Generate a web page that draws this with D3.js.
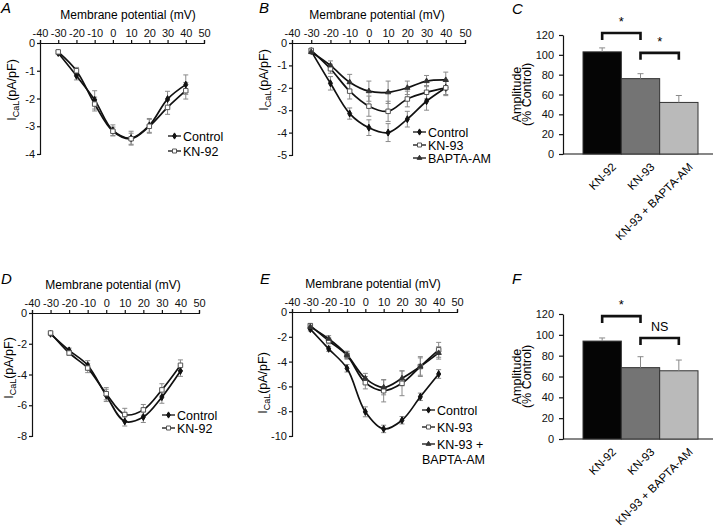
<!DOCTYPE html>
<html>
<head>
<meta charset="utf-8">
<script src="https://cdn.jsdelivr.net/npm/d3@7"></script>
<style>
  body { margin: 0; background: #fff; }
  svg { font-family: "Liberation Sans", Arial, sans-serif; }
  .axis path, .axis line { stroke: #111; stroke-width: 1.2; }
  .axis text { font-size: 11px; fill: #111; }
</style>
</head>
<body>
<svg width="720" height="529"></svg>
<script>
// voltages and ticks shared by the I-V panels
const voltages = [-30, -20, -10, 0, 10, 20, 30, 40];
const xTicks = [-40, -30, -20, -10, 0, 10, 20, 30, 40, 50];

// panel A
const aControl = [-0.36, -1.18, -2.05, -3.15, -3.43, -2.97, -2.02, -1.5];
const aControlErr = [0.06, 0.15, 0.33, 0.2, 0.25, 0.25, 0.28, 0.35];
const aKN92 = [-0.32, -1.0, -2.2, -3.18, -3.45, -3.0, -2.32, -1.72];
const aKN92Err = [0.05, 0.12, 0.25, 0.15, 0.2, 0.25, 0.25, 0.3];

// panel B
const bControl = [-0.36, -1.8, -3.15, -3.78, -4.0, -3.4, -2.6, -2.0];
const bControlErr = [0.08, 0.3, 0.25, 0.35, 0.4, 0.35, 0.4, 0.35];
const bKN93 = [-0.33, -1.15, -2.15, -2.82, -3.05, -2.5, -2.2, -2.0];
const bKN93Err = [0.08, 0.2, 0.35, 0.45, 0.45, 0.35, 0.3, 0.3];
const bBapta = [-0.4, -1.0, -1.75, -2.15, -2.2, -2.0, -1.7, -1.65];
const bBaptaErr = [0.08, 0.2, 0.35, 0.45, 0.5, 0.3, 0.25, 0.35];

// panel D
const dControl = [-1.35, -2.43, -3.4, -5.36, -7.05, -6.77, -5.47, -3.77];
const dControlErr = [0.1, 0.15, 0.3, 0.4, 0.3, 0.35, 0.4, 0.35];
const dKN92 = [-1.3, -2.6, -3.58, -5.25, -6.6, -6.3, -5.0, -3.4];
const dKN92Err = [0.1, 0.15, 0.3, 0.4, 0.4, 0.35, 0.4, 0.35];

// panel E
const eControl = [-1.38, -2.97, -4.54, -8.05, -9.43, -8.73, -6.84, -5.0];
const eControlErr = [0.15, 0.2, 0.3, 0.4, 0.3, 0.3, 0.3, 0.35];
const eKN93 = [-1.1, -2.32, -3.5, -5.7, -6.35, -5.75, -4.4, -3.05];
const eKN93Err = [0.15, 0.25, 0.3, 0.5, 0.9, 1.0, 0.8, 0.6];
const eBapta = [-1.2, -2.16, -3.46, -5.35, -6.08, -5.35, -4.4, -3.3];
const eBaptaErr = [0.15, 0.25, 0.3, 0.4, 0.6, 0.6, 0.7, 0.5];

// bar panels C and F
const barNames = ["KN-92", "KN-93", "KN-93 + BAPTA-AM"];
const barColors = ["#050505", "#747474", "#bababa"];
const barTicks = [0, 20, 40, 60, 80, 100, 120];
const cValues = [103, 76, 52];
const cErr = [4, 5, 7];
const fValues = [94, 68.5, 65.5];
const fErr = [3, 10.5, 10.3];

const svg = d3.select("svg");

const symbols = {
  control: { type: d3.symbolDiamond, size: 14, fill: "#111", stroke: "#111" },
  square: { type: d3.symbolSquare, size: 20, fill: "#fff", stroke: "#555" },
  triangle: { type: d3.symbolTriangle, size: 12, fill: "#333", stroke: "#333" }
};

function panelLetter(t, x, y) {
  svg.append("text").attr("x", x).attr("y", y)
    .attr("font-size", 15).attr("font-style", "italic").text(t);
}

function drawIV(cfg) {
  const x = d3.scaleLinear().domain([-40, 50]).range([cfg.x0, cfg.x1]);
  const y = d3.scaleLinear().domain([0, cfg.yMin]).range([cfg.y0, cfg.y1]);

  svg.append("g").attr("class", "axis")
    .attr("transform", "translate(0," + cfg.y0 + ")")
    .call(d3.axisTop(x).tickValues(xTicks).tickSize(3).tickPadding(3)
      .tickFormat(d => String(d)));

  svg.append("g").attr("class", "axis")
    .attr("transform", "translate(" + cfg.x0 + ",0)")
    .call(d3.axisLeft(y).tickValues(cfg.yTicks).tickSize(3).tickPadding(2)
      .tickFormat(d => String(d)));

  // title
  svg.append("text").attr("x", cfg.titleX).attr("y", cfg.y0 - 24)
    .attr("text-anchor", "middle").attr("font-size", 12)
    .text("Membrane potential (mV)");

  // y label
  const lab = svg.append("text")
    .attr("transform", "rotate(-90)")
    .attr("x", -cfg.labY).attr("y", cfg.labX)
    .attr("text-anchor", "middle").attr("font-size", 12.5);
  lab.append("tspan").text("I");
  lab.append("tspan").attr("font-size", 9).attr("dy", 3).text("CaL");
  lab.append("tspan").attr("dy", -3).text("(pA/pF)");

  const line = d3.line()
    .x((d, i) => x(voltages[i]))
    .y(d => y(d))
    .curve(d3.curveCatmullRom.alpha(0.5));

  // error bars
  cfg.series.forEach(s => {
    const g = svg.append("g").attr("stroke", "#8a8a8a").attr("stroke-width", 1);
    s.vals.forEach((v, i) => {
      const cx = x(voltages[i]);
      const ya = y(v - s.err[i]), yb = y(v + s.err[i]);
      g.append("line").attr("x1", cx).attr("x2", cx).attr("y1", ya).attr("y2", yb);
      g.append("line").attr("x1", cx - 2.5).attr("x2", cx + 2.5).attr("y1", ya).attr("y2", ya);
      g.append("line").attr("x1", cx - 2.5).attr("x2", cx + 2.5).attr("y1", yb).attr("y2", yb);
    });
  });

  // curves
  cfg.series.forEach(s => {
    svg.append("path").attr("d", line(s.vals))
      .attr("fill", "none").attr("stroke", "#111").attr("stroke-width", 1.7);
  });

  // markers
  cfg.series.forEach(s => {
    const sym = symbols[s.sym];
    svg.append("g").selectAll("path").data(s.vals).join("path")
      .attr("transform", (d, i) => "translate(" + x(voltages[i]) + "," + y(d) + ")")
      .attr("d", d3.symbol().type(sym.type).size(sym.size))
      .attr("fill", sym.fill).attr("stroke", sym.stroke).attr("stroke-width", 1);
  });

  // legend
  cfg.series.forEach((s, i) => {
    const ly = cfg.legY[i];
    const sym = symbols[s.sym];
    svg.append("line").attr("x1", cfg.legX).attr("x2", cfg.legX + 13)
      .attr("y1", ly).attr("y2", ly).attr("stroke", "#111").attr("stroke-width", 1.3);
    svg.append("path").attr("transform", "translate(" + (cfg.legX + 6.5) + "," + ly + ")")
      .attr("d", d3.symbol().type(sym.type).size(sym.size * 0.8))
      .attr("fill", sym.fill).attr("stroke", sym.stroke);
    svg.append("text").attr("x", cfg.legX + 15).attr("y", ly)
      .attr("dy", "0.36em").attr("font-size", 12.5).text(s.label[0]);
    if (s.label.length > 1) {
      svg.append("text").attr("x", cfg.legX).attr("y", ly + 15)
        .attr("dy", "0.36em").attr("font-size", 12.5).text(s.label[1]);
    }
  });
}

function drawBars(cfg) {
  const y = d3.scaleLinear().domain([0, 120]).range([cfg.y0, cfg.y1]);
  const x = d3.scaleBand().domain(barNames).range([cfg.x0 + 20, cfg.x0 + 135]).padding(0);
  const xEnd = cfg.x0 + 150;

  svg.append("g").attr("class", "axis")
    .attr("transform", "translate(" + cfg.x0 + ",0)")
    .call(d3.axisLeft(y).tickValues(barTicks).tickSize(4).tickPadding(5).tickSizeOuter(0));

  svg.append("line").attr("x1", cfg.x0).attr("x2", xEnd)
    .attr("y1", y(0)).attr("y2", y(0)).attr("stroke", "#111").attr("stroke-width", 1.2);

  svg.append("g").selectAll("rect").data(cfg.values).join("rect")
    .attr("x", (d, i) => x(barNames[i]))
    .attr("y", d => y(d))
    .attr("width", x.bandwidth())
    .attr("height", d => y(0) - y(d))
    .attr("fill", (d, i) => barColors[i])
    .attr("stroke", "#333").attr("stroke-width", 1);

  // upward error bars
  cfg.values.forEach((v, i) => {
    const cx = x(barNames[i]) + x.bandwidth() / 2;
    svg.append("line").attr("x1", cx).attr("x2", cx)
      .attr("y1", y(v)).attr("y2", y(v + cfg.err[i])).attr("stroke", "#8a8a8a");
    svg.append("line").attr("x1", cx - 3).attr("x2", cx + 3)
      .attr("y1", y(v + cfg.err[i])).attr("y2", y(v + cfg.err[i])).attr("stroke", "#8a8a8a");
  });

  // category labels
  barNames.forEach(n => {
    const cx = x(n) + x.bandwidth() / 2;
    svg.append("text")
      .attr("transform", "translate(" + (cx + 9) + "," + (y(0) + 8) + ") rotate(-45)")
      .attr("text-anchor", "end").attr("dy", "0.7em").attr("font-size", 11.5).text(n);
  });

  // y label, two rotated lines
  const cy = (cfg.y0 + cfg.y1) / 2;
  svg.append("text").attr("transform", "rotate(-90)")
    .attr("x", -cy).attr("y", cfg.x0 - 42)
    .attr("text-anchor", "middle").attr("font-size", 12.5).text("Amplitude");
  svg.append("text").attr("transform", "rotate(-90)")
    .attr("x", -cy).attr("y", cfg.x0 - 32)
    .attr("text-anchor", "middle").attr("font-size", 12.5).text("(% Control)");

  // significance brackets
  cfg.brackets.forEach(b => {
    const xa = x(barNames[b.from]) + x.bandwidth() / 2;
    const xb = x(barNames[b.to]) + x.bandwidth() / 2;
    const top = y(b.level);
    svg.append("path")
      .attr("d", "M" + xa + "," + (top + 7) + "V" + top + "H" + xb + "V" + (top + 7))
      .attr("fill", "none").attr("stroke", "#111").attr("stroke-width", 2.6);
    svg.append("text").attr("x", (xa + xb) / 2).attr("y", top - 7)
      .attr("text-anchor", "middle").attr("font-size", b.text === "*" ? 13 : 12.5)
      .text(b.text);
  });
}

panelLetter("A", 1, 13);
panelLetter("B", 259, 13);
panelLetter("C", 512, 14);
panelLetter("D", 1, 284);
panelLetter("E", 260, 284);
panelLetter("F", 512, 284);

drawIV({
  x0: 40, x1: 204, y0: 43, y1: 154, yMin: -4, yTicks: [0, -1, -2, -3, -4],
  titleX: 128, labX: 16, labY: 90, legX: 168, legY: [136, 151],
  series: [
    { vals: aControl, err: aControlErr, sym: "control", label: ["Control"] },
    { vals: aKN92, err: aKN92Err, sym: "square", label: ["KN-92"] }
  ]
});

drawIV({
  x0: 292, x1: 465, y0: 43, y1: 155, yMin: -5, yTicks: [0, -1, -2, -3, -4, -5],
  titleX: 377, labX: 268, labY: 80, legX: 413, legY: [132, 145, 158],
  series: [
    { vals: bControl, err: bControlErr, sym: "control", label: ["Control"] },
    { vals: bKN93, err: bKN93Err, sym: "square", label: ["KN-93"] },
    { vals: bBapta, err: bBaptaErr, sym: "triangle", label: ["BAPTA-AM"] }
  ]
});

drawIV({
  x0: 32, x1: 199, y0: 313, y1: 436, yMin: -8, yTicks: [0, -2, -4, -6, -8],
  titleX: 113, labX: 13, labY: 368, legX: 162, legY: [415, 428],
  series: [
    { vals: dControl, err: dControlErr, sym: "control", label: ["Control"] },
    { vals: dKN92, err: dKN92Err, sym: "square", label: ["KN-92"] }
  ]
});

drawIV({
  x0: 292, x1: 457, y0: 312, y1: 436, yMin: -10, yTicks: [0, -2, -4, -6, -8, -10],
  titleX: 373, labX: 267, labY: 383, legX: 422, legY: [410, 427, 444],
  series: [
    { vals: eControl, err: eControlErr, sym: "control", label: ["Control"] },
    { vals: eKN93, err: eKN93Err, sym: "square", label: ["KN-93"] },
    { vals: eBapta, err: eBaptaErr, sym: "triangle", label: ["KN-93 +", "BAPTA-AM"] }
  ]
});

drawBars({
  x0: 563, y0: 154, y1: 35, values: cValues, err: cErr,
  brackets: [
    { from: 0, to: 1, level: 122, text: "*" },
    { from: 1, to: 2, level: 102, text: "*" }
  ]
});

drawBars({
  x0: 563, y0: 439, y1: 314, values: fValues, err: fErr,
  brackets: [
    { from: 0, to: 1, level: 118, text: "*" },
    { from: 1, to: 2, level: 97, text: "NS" }
  ]
});
</script>
</body>
</html>
